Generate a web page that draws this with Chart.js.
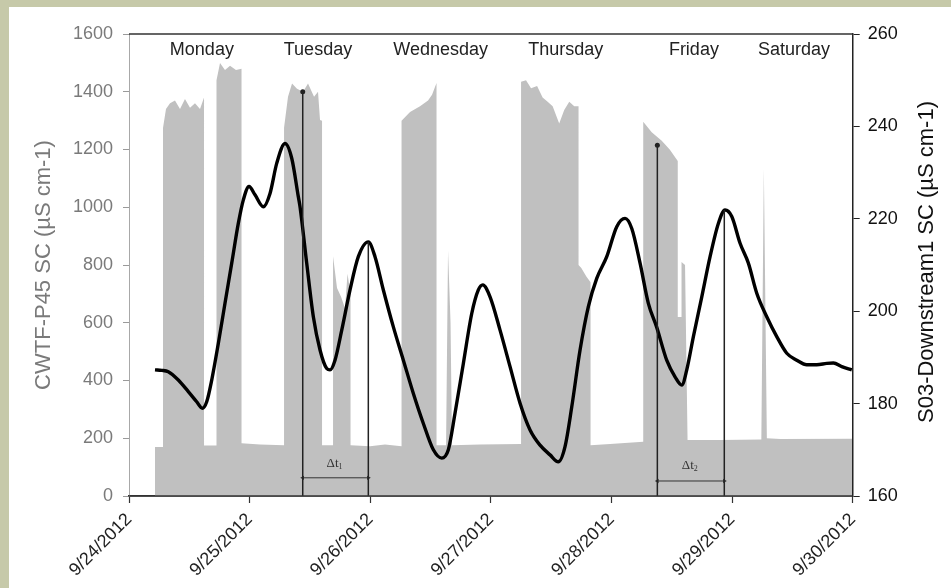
<!DOCTYPE html>
<html>
<head>
<meta charset="utf-8">
<script src="https://cdn.jsdelivr.net/npm/chart.js@4.4.0/dist/chart.umd.min.js"></script>
<style>
  body { margin: 0; background: #c6c9a9; }
  #panel { position: absolute; left: 9px; top: 7px; width: 942px; height: 581px; background: #fff; }
</style>
</head>
<body>
<div id="panel"><canvas id="myChart" width="942" height="581"></canvas></div>
<script>
// x values are hours since 9/24/2012 00:00
const dateLabels = ["9/24/2012", "9/25/2012", "9/26/2012", "9/27/2012", "9/28/2012", "9/29/2012", "9/30/2012"];
const dayNames = ["Monday", "Tuesday", "Wednesday", "Thursday", "Friday", "Saturday"];
const dayNameHours = [14.5, 37.6, 62.0, 86.9, 112.4, 132.3];
const dayNameLevel = 1544;
const leftTitle = "CWTF-P45 SC (\u00b5S cm-1)";
const rightTitle = "S03-Downstream1 SC (\u00b5S cm-1)";

// CWTF-P45 SC (left axis, grey area)
const cwtfHours = [
  5.17, 6.77, 6.77, 7.36, 8.16, 9.15, 10.15, 11.14, 12.14, 13.13, 14.13, 14.93, 14.93,
  17.41, 17.41, 18.11, 19.10, 20.10, 21.29, 22.39, 22.39,
  26.07, 30.85, 30.85, 31.64, 32.44, 33.43, 34.63, 35.62, 36.82, 37.61, 38.01, 38.41, 38.41,
  40.60, 40.60, 41.39, 42.19, 42.98, 43.48, 44.08, 44.08,
  47.96, 50.94, 54.23, 54.23, 55.92, 57.91, 59.50, 60.30, 61.19, 61.19,
  63.09, 63.48, 63.98, 64.28,
  69.85, 78.01, 78.01, 79.00, 80.00, 81.20, 82.30, 83.30, 84.30, 85.60, 86.60, 87.60, 88.60, 89.45, 89.45,
  90.00, 91.00, 91.84, 91.84,
  95.72, 102.32, 102.32, 104.01, 106.00, 107.59, 109.19, 109.19, 109.94, 109.94, 110.64, 111.14,
  117.61, 125.82, 126.32, 126.92, 129.61, 143.88
];
const cwtfValues = [
  170, 170, 1275, 1340, 1360, 1370, 1340, 1375, 1345, 1360, 1340, 1380, 175,
  175, 1440, 1500, 1475, 1490, 1475, 1480, 183,
  178, 176, 1275, 1383, 1429, 1410, 1400, 1429, 1383, 1400, 1302, 1300, 176,
  176, 830, 720, 690, 650, 770, 700, 176,
  172, 178, 172, 1300, 1330, 1350, 1370, 1390, 1430, 176,
  176, 850, 600, 176,
  178, 180, 1435, 1440, 1412, 1420, 1380, 1365, 1350, 1290, 1337, 1365, 1350, 1350, 800,
  790, 760, 740, 176,
  180, 188, 1296, 1260, 1230, 1200, 1160, 620, 620, 810, 800, 194,
  194, 196, 1135, 200, 197, 198
];

// S03-Downstream1 SC (right axis, black line)
const s03Hours = [
  5.17, 6.51, 7.82, 9.81, 11.80, 13.47, 14.59, 15.46, 16.46, 17.77, 19.10, 20.44, 21.75, 22.75, 23.88,
  25.07, 26.73, 28.06, 29.39, 31.04, 32.38, 33.69, 34.03, 35.36, 36.68, 38.01, 39.34, 40.00, 40.99,
  42.33, 43.98, 45.63, 47.62, 48.95, 50.61, 52.60, 54.59, 56.58, 58.57, 60.56, 62.23, 63.54, 64.87,
  66.53, 68.20, 69.51, 70.39, 71.84, 73.83, 75.82, 77.81, 79.80, 81.79, 83.78, 85.43, 86.76, 88.10,
  89.75, 91.40, 93.07, 95.06, 97.05, 98.70, 100.04, 101.69, 103.34, 105.01, 106.99, 108.65, 109.99,
  110.98, 112.30, 113.97, 115.62, 117.27, 118.60, 119.94, 121.59, 123.24, 124.91, 126.90, 128.89,
  130.88, 132.87, 134.86, 136.85, 138.84, 140.16, 141.83, 143.82
];
const s03Values = [
  187.3, 187.2, 186.9, 185.1, 182.6, 180.4, 179.0, 180.4, 185.1, 193.0, 201.7, 210.4, 219.0, 224.1, 227.0,
  225.2, 222.6, 225.5, 232.0, 236.3, 233.1, 224.8, 222.6, 210.4, 198.8, 191.6, 187.6, 187.3, 189.4,
  195.9, 204.6, 211.8, 215.0, 211.8, 204.6, 196.6, 189.4, 182.2, 175.7, 170.0, 168.2, 170.0, 177.9,
  188.7, 199.5, 204.6, 205.7, 203.1, 195.9, 188.0, 180.1, 174.3, 171.0, 168.9, 167.4, 170.7, 179.3,
  191.6, 201.0, 207.1, 211.8, 218.3, 220.1, 217.9, 210.4, 201.7, 196.5, 189.4, 185.8, 184.0,
  187.3, 194.5, 203.1, 211.8, 219.0, 221.9, 220.5, 214.7, 210.4, 203.9, 198.8, 194.5,
  190.9, 189.4, 188.4, 188.4, 188.7, 188.8, 188.0, 187.3
];

// lag markers: start (left axis) and end (right axis, at the peak)
const lagStartHours = [34.57, 105.13];
const lagStartTops = [1400, 1215];
const lagEndHours = [47.62, 118.45];
const lagEndTops = [215.0, 221.9];
const lagArrowLevels = [63, 52];
const lagNames = ["1", "2"];
const lagLabelLevels = [114, 107];

function toPoints(xs, ys) {
  return xs.map((x, i) => ({ x: x, y: ys[i] }));
}

const datasets = [
  {
    label: "CWTF-P45 SC",
    data: toPoints(cwtfHours, cwtfValues),
    yAxisID: "y",
    borderWidth: 0,
    backgroundColor: "#c0c0c0",
    fill: "origin",
    pointRadius: 0,
    tension: 0,
    order: 5
  },
  {
    label: "S03-Downstream1 SC",
    data: toPoints(s03Hours, s03Values),
    yAxisID: "y1",
    borderColor: "#000",
    borderWidth: 3.4,
    pointRadius: 0,
    cubicInterpolationMode: "monotone",
    fill: false,
    order: 2
  }
];

for (let i = 0; i < lagStartHours.length; i++) {
  datasets.push({
    data: [{ x: lagStartHours[i], y: 0 }, { x: lagStartHours[i], y: lagStartTops[i] }],
    yAxisID: "y",
    borderColor: "#222",
    borderWidth: 1.5,
    pointRadius: [0, 2.5],
    pointBackgroundColor: "#222",
    pointBorderWidth: 0,
    fill: false,
    order: 1
  });
  datasets.push({
    data: [{ x: lagEndHours[i], y: 160 }, { x: lagEndHours[i], y: lagEndTops[i] }],
    yAxisID: "y1",
    borderColor: "#222",
    borderWidth: 1.5,
    pointRadius: 0,
    fill: false,
    order: 1
  });
  datasets.push({
    data: [{ x: lagStartHours[i], y: lagArrowLevels[i] }, { x: lagEndHours[i], y: lagArrowLevels[i] }],
    yAxisID: "y",
    borderColor: "#333",
    borderWidth: 1,
    pointStyle: "triangle",
    pointRadius: 2.5,
    pointRotation: [-90, 90],
    pointBackgroundColor: "#333",
    pointBorderWidth: 0,
    fill: false,
    order: 1
  });
}

const textPlugin = {
  id: "textPlugin",
  afterDatasetsDraw(chart) {
    const { ctx, chartArea, scales } = chart;
    const xs = scales.x, ys = scales.y;
    ctx.save();
    ctx.strokeStyle = "#333";
    ctx.lineWidth = 1.5;
    ctx.beginPath();
    ctx.moveTo(chartArea.left, chartArea.top);
    ctx.lineTo(chartArea.right, chartArea.top);
    ctx.moveTo(chartArea.left, chartArea.bottom);
    ctx.lineTo(chartArea.right, chartArea.bottom);
    ctx.stroke();

    ctx.fillStyle = "#222";
    ctx.font = '18px "Liberation Sans"';
    ctx.textAlign = "center";
    ctx.textBaseline = "middle";
    dayNames.forEach((d, i) => {
      ctx.fillText(d, xs.getPixelForValue(dayNameHours[i]), ys.getPixelForValue(dayNameLevel));
    });

    ctx.fillStyle = "#333";
    for (let i = 0; i < lagNames.length; i++) {
      const cx = xs.getPixelForValue((lagStartHours[i] + lagEndHours[i]) / 2);
      const cy = ys.getPixelForValue(lagLabelLevels[i]);
      ctx.font = '13px "Liberation Serif"';
      ctx.textAlign = "right";
      ctx.fillText("\u0394t", cx + 3, cy);
      ctx.font = '8px "Liberation Serif"';
      ctx.textAlign = "left";
      ctx.fillText(lagNames[i], cx + 3, cy + 4);
    }

    // right axis title reads bottom-to-top like the left one
    const r = scales.y1;
    ctx.translate(r.right - 24, (chartArea.top + chartArea.bottom) / 2 - 3);
    ctx.rotate(-Math.PI / 2);
    ctx.fillStyle = "#111";
    ctx.font = '22px "Liberation Sans"';
    ctx.textAlign = "center";
    ctx.textBaseline = "middle";
    ctx.fillText(rightTitle, 0, 0);
    ctx.restore();
  }
};

new Chart(document.getElementById("myChart"), {
  type: "line",
  data: { datasets: datasets },
  plugins: [textPlugin],
  options: {
    responsive: false,
    animation: false,
    layout: { padding: { top: 27, left: 0, right: 0, bottom: 0 } },
    plugins: { legend: { display: false }, tooltip: { enabled: false } },
    scales: {
      x: {
        type: "linear",
        min: 0,
        max: 144,
        afterFit(s) { s.height = 92; },
        afterBuildTicks(s) { s.ticks = dateLabels.map((_, i) => ({ value: i * 24 })); },
        ticks: {
          callback: (v) => dateLabels[Math.round(v / 24)],
          maxRotation: 45,
          minRotation: 45,
          autoSkip: false,
          padding: 6,
          color: "#222",
          font: { family: "Liberation Sans", size: 18 }
        },
        grid: { drawOnChartArea: false, tickLength: 7, tickColor: "#333", tickWidth: 1.2 },
        border: { color: "#333", width: 1.5 }
      },
      y: {
        position: "left",
        min: 0,
        max: 1600,
        afterFit(s) { s.width = 120; },
        ticks: {
          stepSize: 200,
          padding: 10,
          color: "#7a7a7a",
          callback: (v) => String(v),
          font: { family: "Liberation Sans", size: 18 }
        },
        grid: { drawOnChartArea: false, tickLength: 6, tickColor: "#9a9a9a" },
        border: { color: "#a8a8a8", width: 1 },
        title: {
          display: true,
          text: leftTitle,
          color: "#7a7a7a",
          font: { family: "Liberation Sans", size: 22 },
          padding: { top: 22, bottom: 0 }
        }
      },
      y1: {
        position: "right",
        min: 160,
        max: 260,
        afterFit(s) { s.width = 98.3; },
        ticks: {
          stepSize: 20,
          padding: 8,
          color: "#111",
          callback: (v) => String(v),
          font: { family: "Liberation Sans", size: 18 }
        },
        grid: { drawOnChartArea: false, tickLength: 7, tickColor: "#222" },
        border: { color: "#222", width: 1.5 }
      }
    }
  }
});
</script>
</body>
</html>
